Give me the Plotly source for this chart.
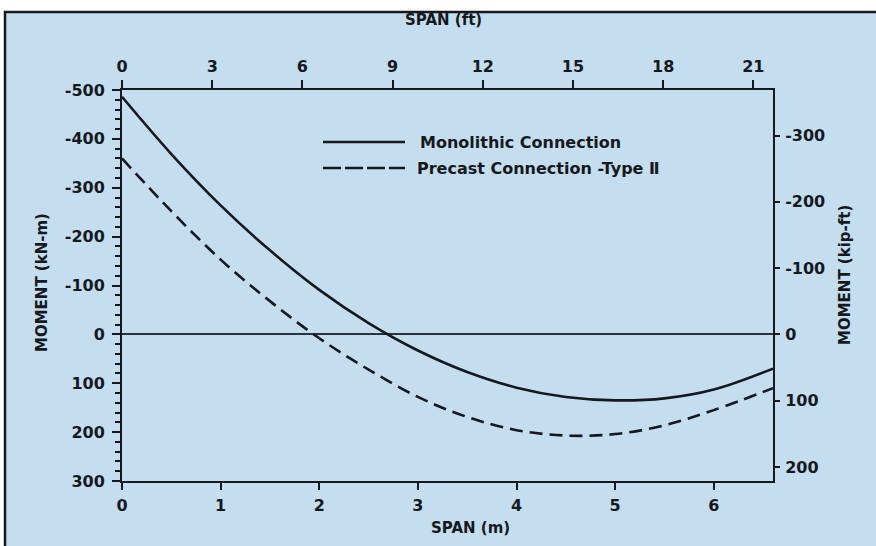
import plotly.graph_objects as go

# Span positions along the member (m)
span_m = [0, 0.5, 1.0, 1.5, 2.0, 2.5, 3.0, 3.5, 4.0, 4.5, 5.0, 5.5, 6.0, 6.6]
# Bending moment (kN-m), negative = hogging
moment_monolithic = [-486, -369, -264, -172, -91, -23, 33, 77, 109, 128, 135, 131, 113, 70]
moment_precast = [-360, -252, -153, -68, 8, 72, 128, 169, 196, 207, 204, 186, 155, 110]

# Axis tick values
m_ticks = [0, 1, 2, 3, 4, 5, 6]
ft_ticks = [0, 3, 6, 9, 12, 15, 18, 21]
knm_ticks = [-500, -400, -300, -200, -100, 0, 100, 200, 300]
kipft_ticks = [-300, -200, -100, 0, 100, 200]

M_PER_FT = 0.3048
KNM_PER_KIPFT = 1.35582
X_MAX = 6.6
Y_MIN, Y_MAX = -500, 300

INK = "#15191e"
BLUE = "#c4ddef"
FONT = "DejaVu Sans"


def labels(vals):
    # plain hyphen for negatives, as lettered on the drawing
    return [str(v) for v in vals]


fig = go.Figure()
fig.add_trace(go.Scatter(x=span_m, y=moment_monolithic, mode="lines",
                         line=dict(color=INK, width=2.6, shape="spline"),
                         showlegend=False, hoverinfo="skip"))
fig.add_trace(go.Scatter(x=span_m, y=moment_precast, mode="lines",
                         line=dict(color=INK, width=2.6, shape="spline", dash="13px,7px"),
                         showlegend=False, hoverinfo="skip"))
# empty trace so the ft / kip-ft axes get their own subplot
fig.add_trace(go.Scatter(x=[], y=[], xaxis="x2", yaxis="y2",
                         showlegend=False, hoverinfo="skip"))

tick_font = dict(family=FONT, size=16, color=INK, weight="bold")

fig.update_layout(
    width=876, height=546,
    margin=dict(l=122, r=103, t=90, b=65),
    paper_bgcolor="white",
    plot_bgcolor="rgba(0,0,0,0)",
    showlegend=False,
    xaxis=dict(range=[0, X_MAX], tickvals=m_ticks, ticktext=labels(m_ticks),
               showgrid=False, zeroline=False, showline=True, linecolor=INK, linewidth=2,
               ticks="outside", ticklen=7, tickwidth=2, tickcolor=INK,
               tickfont=tick_font, ticklabelstandoff=2),
    yaxis=dict(range=[Y_MAX, Y_MIN], tickvals=knm_ticks, ticktext=labels(knm_ticks),
               showgrid=False, zeroline=True, zerolinecolor="#2a333c", zerolinewidth=1.6,
               showline=True, linecolor=INK, linewidth=2,
               ticks="outside", ticklen=8, tickwidth=2, tickcolor=INK,
               minor=dict(dtick=20, ticks="outside", ticklen=5, tickwidth=1.5, tickcolor=INK),
               tickfont=tick_font, ticklabelstandoff=4),
    xaxis2=dict(range=[0, X_MAX / M_PER_FT], tickvals=ft_ticks, ticktext=labels(ft_ticks),
                overlaying="x", side="top",
                anchor="y", showgrid=False, zeroline=False, showline=True, linecolor=INK,
                linewidth=2, ticks="outside", ticklen=8, tickwidth=2, tickcolor=INK,
                tickfont=tick_font, ticklabelstandoff=2),
    yaxis2=dict(range=[Y_MAX / KNM_PER_KIPFT, Y_MIN / KNM_PER_KIPFT], tickvals=kipft_ticks,
                ticktext=labels(kipft_ticks),
                overlaying="y", side="right", anchor="x", showgrid=False, zeroline=False,
                showline=True, linecolor=INK, linewidth=2,
                ticks="outside", ticklen=5, tickwidth=2, tickcolor=INK,
                tickfont=tick_font, ticklabelstandoff=2),
)

# plot area in pixels: left 122, right 773, top 90, bottom 481
PL, PR, PT, PB = 122, 773, 90, 481


def px(x):
    return (x - PL) / (PR - PL)


def py(y):
    return (PB - y) / (PB - PT)


shapes = [
    # panel behind the chart with its frame
    dict(type="rect", xref="paper", yref="paper", x0=px(5), x1=px(884), y0=py(556), y1=py(12),
         fillcolor=BLUE, line=dict(color=INK, width=2.5), layer="below"),
    # legend keys
    dict(type="line", xref="paper", yref="paper", x0=px(323), x1=px(405), y0=py(142), y1=py(142),
         line=dict(color=INK, width=2.6)),
    dict(type="line", xref="paper", yref="paper", x0=px(323), x1=px(405), y0=py(168), y1=py(168),
         line=dict(color=INK, width=2.6, dash="18px,4px")),
]
fig.update_layout(shapes=shapes)

title_font = dict(family=FONT, size=15, color=INK, weight="bold")
legend_font = dict(family=FONT, size=16, color=INK, weight="bold")

annotations = [
    dict(text="SPAN (ft)", x=px(443), y=py(20), xref="paper", yref="paper",
         showarrow=False, font=title_font, xanchor="center", yanchor="middle"),
    dict(text="SPAN (m)", x=px(470), y=py(528), xref="paper", yref="paper",
         showarrow=False, font=title_font, xanchor="center", yanchor="middle"),
    dict(text="MOMENT (kN-m)", x=px(42), y=py(283), xref="paper", yref="paper",
         showarrow=False, font=title_font, textangle=-90, xanchor="center", yanchor="middle"),
    dict(text="MOMENT (kip-ft)", x=px(845), y=py(275), xref="paper", yref="paper",
         showarrow=False, font=title_font, textangle=-90, xanchor="center", yanchor="middle"),
    dict(text="Monolithic Connection", x=px(418), y=py(142), xref="paper", yref="paper",
         showarrow=False, font=legend_font, xanchor="left", yanchor="middle"),
    dict(text="Precast Connection -Type Ⅱ", x=px(415), y=py(168), xref="paper", yref="paper",
         showarrow=False, font=legend_font, xanchor="left", yanchor="middle"),
]
fig.update_layout(annotations=annotations)

fig.write_html("out.html")
